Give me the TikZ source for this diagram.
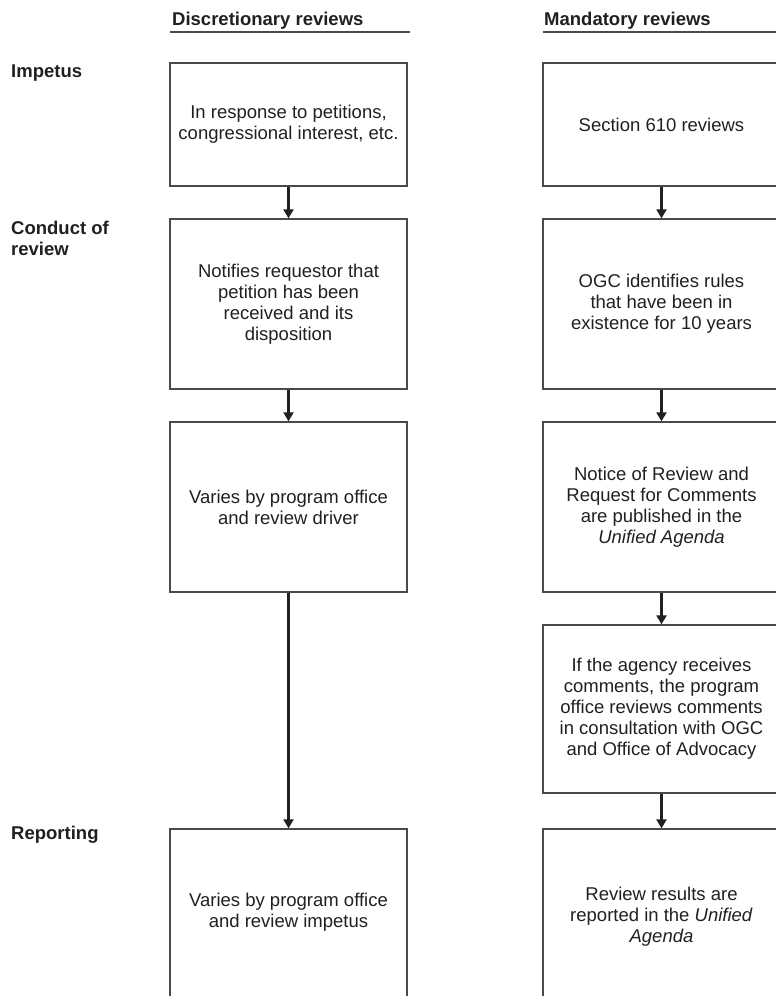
\documentclass[tikz,border=0pt]{standalone}
\usepackage{fontspec}
\setmainfont{Liberation Sans}
\usetikzlibrary{arrows.meta}
\definecolor{ink}{HTML}{231F20}
\definecolor{frame}{HTML}{4A4A4A}
\begin{document}
\begin{tikzpicture}[x=1pt,y=-1pt,
  every node/.style={text=ink},
  box/.style={draw=frame, line width=1.3pt, rectangle, inner sep=0pt,
    minimum width=237pt, align=center,
    font=\fontsize{18.5}{21}\selectfont},
  head/.style={font=\fontsize{18.5}{21}\selectfont\bfseries, inner sep=0pt, anchor=base west},
  rowlab/.style={font=\fontsize{18.5}{20.5}\selectfont\bfseries, inner sep=0pt, align=left, anchor=north west},
  arr/.style={draw=ink, line width=2.2pt, -{Triangle[width=10pt,length=9pt]}},
  rule/.style={draw=frame, line width=1.3pt}
]
\useasboundingbox (0,0) rectangle (776,996);
\clip (0,0) rectangle (776,996);

% column headings with their rules
\node[head] (hd) at (172,25) {Discretionary reviews};
\node[head] (hm) at (544,25) {Mandatory reviews};
\coordinate (hdL) at (170,32);
\coordinate (hdR) at (410,32);
\coordinate (hmL) at (543,32);
\coordinate (hmR) at (790,32);
\draw[rule] (hdL) -- (hdR);
\draw[rule] (hmL) -- (hmR);

% row labels
\node[rowlab] (rimp) at (11,64.5) {Impetus};
\node[rowlab] (rcon) at (11,221) {Conduct of\\review};
\node[rowlab] (rrep) at (11,825.5) {Reporting};

% discretionary column
\node[box, minimum height=123pt] (d1) at (288.5,124.5)
  {In response to petitions,\\congressional interest, etc.};
\node[box, minimum height=170pt] (d2) at (288.5,304)
  {Notifies requestor that\\petition has been\\received and its\\disposition};
\node[box, minimum height=170pt] (d3) at (288.5,507)
  {Varies by program office\\and review driver};
% the reporting boxes run past the lower page edge
\node[box, minimum height=175pt] (d4) at (288.5,916.5)
  {Varies by program office\\and review impetus\\[-9pt]\mbox{}};

% mandatory column
\node[box, minimum height=123pt] (m1) at (661.5,124.5)
  {Section 610 reviews};
\node[box, minimum height=170pt] (m2) at (661.5,304)
  {OGC identifies rules\\that have been in\\existence for 10 years};
\node[box, minimum height=170pt] (m3) at (661.5,507)
  {Notice of Review and\\Request for Comments\\are published in the\\\textit{Unified Agenda}};
\node[box, minimum height=168pt] (m4) at (661.5,709)
  {If the agency receives\\comments, the program\\office reviews comments\\in consultation with OGC\\and Office of Advocacy};
\node[box, minimum height=175pt] (m5) at (661.5,916.5)
  {Review results are\\reported in the \textit{Unified}\\\textit{Agenda}};

% flow arrows
\draw[arr] (d1.south) -- (d2.north);
\draw[arr] (d2.south) -- (d3.north);
\draw[arr] (d3.south) -- (d4.north);
\draw[arr] (m1.south) -- (m2.north);
\draw[arr] (m2.south) -- (m3.north);
\draw[arr] (m3.south) -- (m4.north);
\draw[arr] (m4.south) -- (m5.north);
\end{tikzpicture}
\end{document}
